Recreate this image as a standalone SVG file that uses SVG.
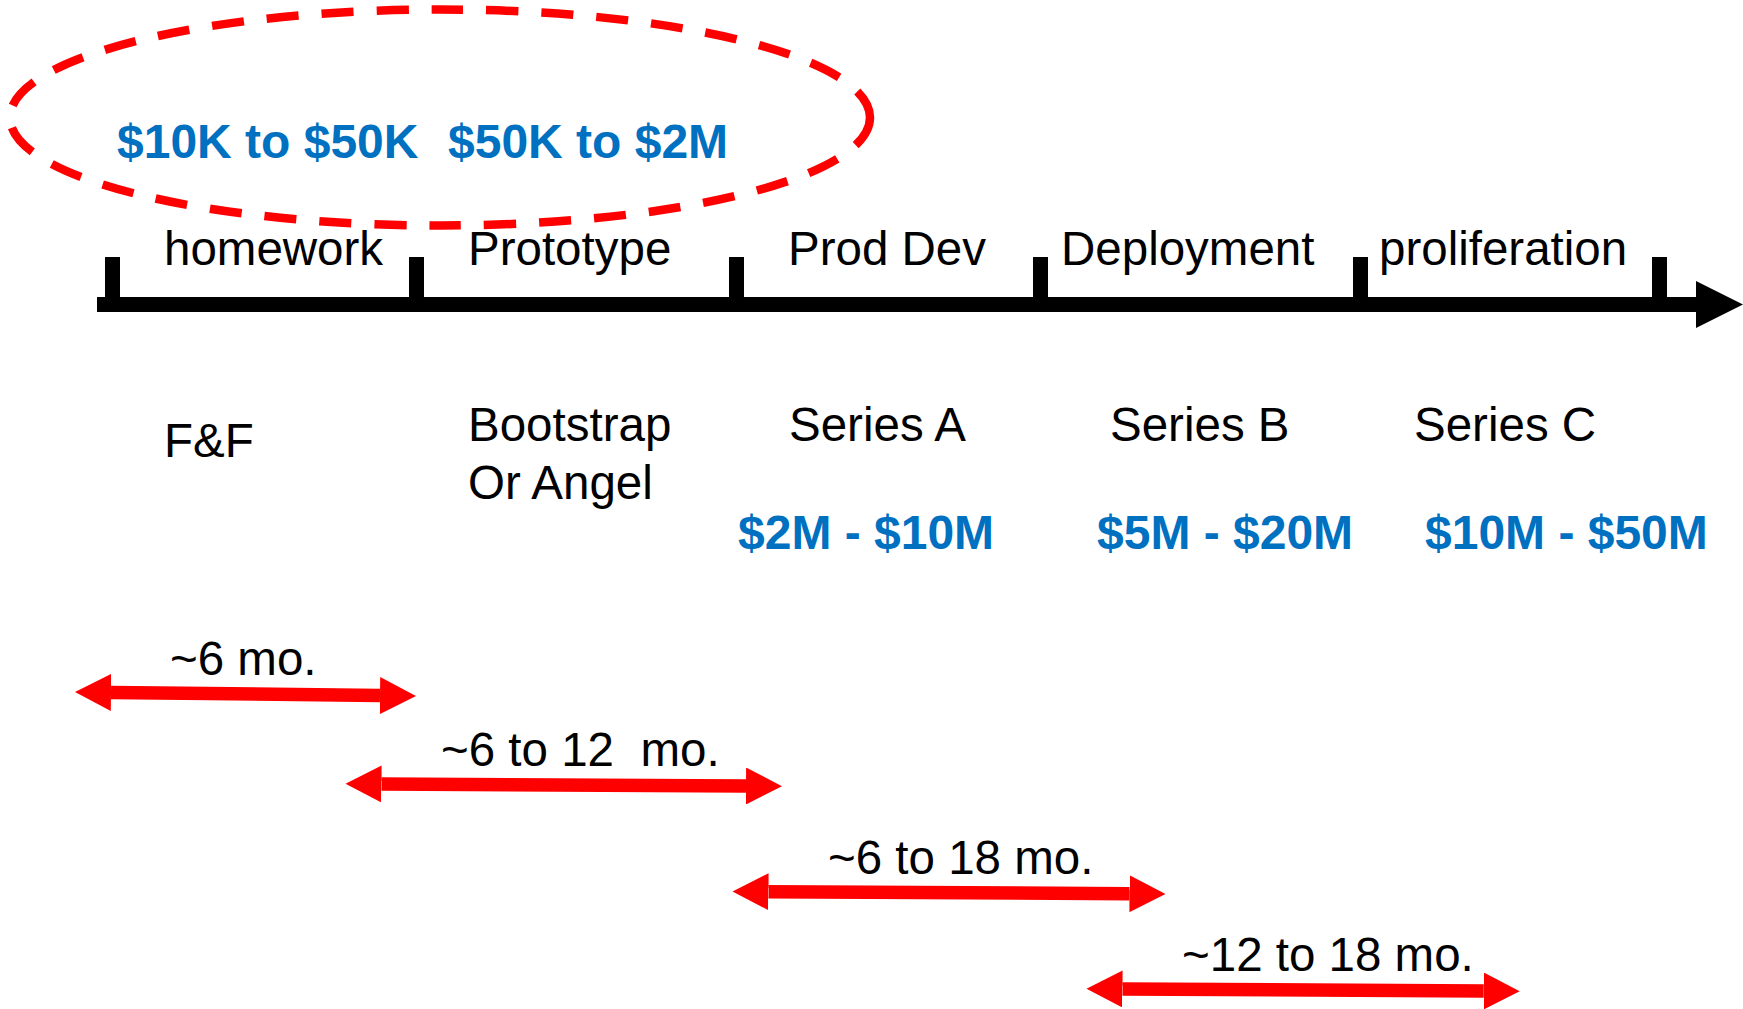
<svg xmlns="http://www.w3.org/2000/svg" width="1743" height="1009" viewBox="0 0 1743 1009">
<style>
  .t { font-family: "Liberation Sans", Arial, sans-serif; font-size: 47.5px; fill: #000; }
  .b { font-family: "Liberation Sans", Arial, sans-serif; font-size: 48px; font-weight: bold; fill: #0070C0; }
  .tick { fill: #000; }
  .arr { stroke: #FF0000; stroke-width: 13.5; fill: none; marker-start: url(#head); marker-end: url(#head); }
</style>
<defs>
  <marker id="head" markerUnits="userSpaceOnUse" markerWidth="36" markerHeight="37" viewBox="0 0 36 37" refX="0" refY="18.5" orient="auto-start-reverse">
    <path d="M0,0 L36,18.5 L0,37 Z" fill="#FF0000"/>
  </marker>
</defs>
<rect width="1743" height="1009" fill="#fff"/>

<g id="seed-ellipse">
  <ellipse cx="440" cy="117.5" rx="430" ry="108" fill="none" stroke="#FF0000" stroke-width="8.5" stroke-dasharray="32 23"/>
  <text class="b" x="117" y="158">$10K to $50K</text>
  <text class="b" x="448" y="158">$50K to $2M</text>
</g>

<g id="timeline">
  <rect x="97" y="297" width="1602" height="15" fill="#000"/>
  <polygon points="1696,281 1743,304.5 1696,328" fill="#000"/>
  <rect class="tick" x="105" y="257" width="15" height="45"/>
  <rect class="tick" x="409" y="257" width="15" height="45"/>
  <rect class="tick" x="729" y="257" width="15" height="45"/>
  <rect class="tick" x="1033" y="257" width="15" height="45"/>
  <rect class="tick" x="1353" y="257" width="15" height="45"/>
  <rect class="tick" x="1652" y="257" width="15" height="45"/>
</g>

<g id="stage-homework">
  <text class="t" x="164" y="265">homework</text>
  <text class="t" x="164" y="457">F&amp;F</text>
</g>
<g id="stage-prototype">
  <text class="t" x="468" y="265">Prototype</text>
  <text class="t" x="468" y="441">Bootstrap</text>
  <text class="t" x="468" y="499">Or Angel</text>
</g>
<g id="stage-proddev">
  <text class="t" x="788" y="265">Prod Dev</text>
  <text class="t" x="789" y="441">Series A</text>
  <text class="b" x="738" y="549">$2M - $10M</text>
</g>
<g id="stage-deployment">
  <text class="t" x="1061" y="265">Deployment</text>
  <text class="t" x="1110" y="441">Series B</text>
  <text class="b" x="1097" y="549">$5M - $20M</text>
</g>
<g id="stage-proliferation">
  <text class="t" x="1379" y="265">proliferation</text>
  <text class="t" x="1414" y="441">Series C</text>
  <text class="b" x="1425" y="549">$10M - $50M</text>
</g>

<g id="connectors">
  <line class="arr" x1="111" y1="692.5" x2="380" y2="695.5"/>
  <line class="arr" x1="381.5" y1="784" x2="746" y2="786"/>
  <line class="arr" x1="768.5" y1="891.7" x2="1129.5" y2="893.7"/>
  <line class="arr" x1="1122.5" y1="989" x2="1483.7" y2="991"/>
</g>

<g id="durations">
  <text class="t" x="170" y="675">~6 mo.</text>
  <text class="t" x="441" y="766" xml:space="preserve">~6 to 12  mo.</text>
  <text class="t" x="828" y="874">~6 to 18 mo.</text>
  <text class="t" x="1182" y="971">~12 to 18 mo.</text>
</g>
</svg>
